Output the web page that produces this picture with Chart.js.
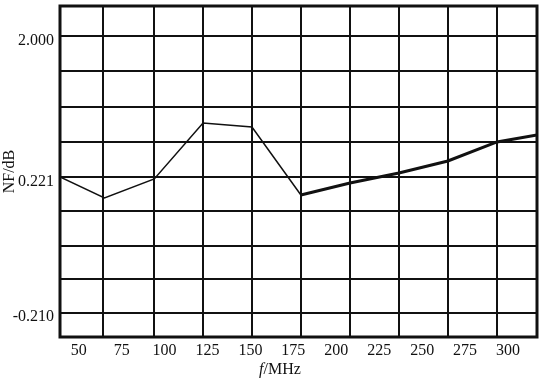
<!DOCTYPE html>
<html>
<head>
<meta charset="utf-8">
<script src="https://cdn.jsdelivr.net/npm/chart.js@4"></script>
<style>
  html, body { margin: 0; padding: 0; background: #fff; }
  canvas { display: block; }
</style>
</head>
<body>
<canvas id="nf" width="556" height="384"></canvas>
<script>
// frequency axis (MHz) – label ticks and the (offset) grid lines of the scan
const xTicks = [50, 75, 100, 125, 150, 175, 200, 225, 250, 275, 300];
const xGrid = [64.1, 93.9, 122.4, 150.9, 179.4, 208.0, 236.5, 265.0, 293.6];
const xMin = 39.1, xMax = 316.9;

// NF axis (dB)
const yTickVals = [2.0, 0.221, -1.482];
const yTickText = ['2.000', '0.221', '-0.210'];
const yGrid = [2.063, 1.6215, 1.1673, 0.7257, 0.2841, -0.1449, -0.5865, -1.0028, -1.4318];
const yMin = -1.7346, yMax = 2.4416;

// measured curve
const freq = [39.1, 65.0, 94.0, 122.4, 150.9, 179.4, 208.0, 236.5, 265.0, 293.6, 316.9];
const nf = [0.284, 0.019, 0.259, 0.965, 0.915, 0.057, 0.208, 0.335, 0.486, 0.726, 0.814];

const ink = '#111';
const serif = '"Liberation Serif", "Times New Roman", serif';

const framePlugin = {
    id: 'frame',
    afterDraw(chart) {
        const { ctx, chartArea: a } = chart;
        ctx.save();
        ctx.lineWidth = 3;
        ctx.strokeStyle = ink;
        ctx.strokeRect(a.left, a.top, a.right - a.left, a.bottom - a.top);

        // x title: italic f + "/MHz"
        let cx = a.left + (a.right - a.left) * 0.461;
        let y = a.bottom + 33;
        ctx.fillStyle = ink;
        ctx.textBaseline = 'middle';
        ctx.font = 'italic 16px ' + serif;
        let w1 = ctx.measureText('f').width;
        ctx.font = '16px ' + serif;
        let w2 = ctx.measureText('/MHz').width;
        let x0 = cx - (w1 + w2) / 2;
        ctx.font = 'italic 16px ' + serif;
        ctx.textAlign = 'left';
        ctx.fillText('f', x0, y);
        ctx.font = '16px ' + serif;
        ctx.fillText('/MHz', x0 + w1, y);
        ctx.restore();
    }
};

let points = freq.map((f, i) => ({ x: f, y: nf[i] }));

// no label overhang padding, fixed axis sizes
function fixW(w) { return s => { s.width = w; s.paddingTop = 0; s.paddingBottom = 0; }; }
function fixH(h) { return s => { s.height = h; s.paddingLeft = 0; s.paddingRight = 0; }; }

new Chart(document.getElementById('nf'), {
    type: 'line',
    data: {
        datasets: [{
            data: points,
            borderColor: ink,
            borderWidth: 1.5,
            pointRadius: 0,
            tension: 0,
            fill: false,
            segment: {
                // right part of the curve is drawn heavier in the original
                borderWidth: c => c.p0DataIndex >= 5 ? 3 : 1.5
            }
        }]
    },
    options: {
        responsive: false,
        animation: false,
        events: [],
        layout: { padding: { top: 6, right: 19, left: 0, bottom: 0 } },
        plugins: { legend: { display: false }, tooltip: { enabled: false } },
        scales: {
            x: {
                type: 'linear', position: 'bottom', min: xMin, max: xMax,
                afterBuildTicks: s => { s.ticks = xTicks.map(v => ({ value: v })); },
                afterFit: fixH(47),
                grid: { display: false, drawTicks: false },
                border: { display: false },
                ticks: { color: ink, padding: 4, maxRotation: 0, autoSkip: false,
                         font: { family: serif, size: 16 } }
            },
            xg: {
                type: 'linear', position: 'bottom', min: xMin, max: xMax,
                afterBuildTicks: s => { s.ticks = xGrid.map(v => ({ value: v })); },
                afterFit: fixH(0),
                grid: { color: ink, lineWidth: 2, drawTicks: false },
                border: { display: false },
                ticks: { display: false }
            },
            y: {
                type: 'linear', position: 'left', min: yMin, max: yMax,
                afterBuildTicks: s => { s.ticks = yTickVals.map(v => ({ value: v })); },
                afterFit: fixW(60),
                grid: { display: false, drawTicks: false },
                border: { display: false },
                ticks: {
                    color: ink, padding: 6, autoSkip: false,
                    font: { family: serif, size: 16 },
                    callback: (v, i) => yTickText[i]
                },
                title: { display: true, text: 'NF/dB', color: ink, padding: { top: 0, bottom: 0 },
                         font: { family: serif, size: 16 } }
            },
            yg: {
                type: 'linear', position: 'left', min: yMin, max: yMax,
                afterBuildTicks: s => { s.ticks = yGrid.map(v => ({ value: v })); },
                afterFit: fixW(0),
                grid: { color: ink, lineWidth: 2, drawTicks: false },
                border: { display: false },
                ticks: { display: false }
            }
        }
    },
    plugins: [framePlugin]
});
</script>
</body>
</html>
